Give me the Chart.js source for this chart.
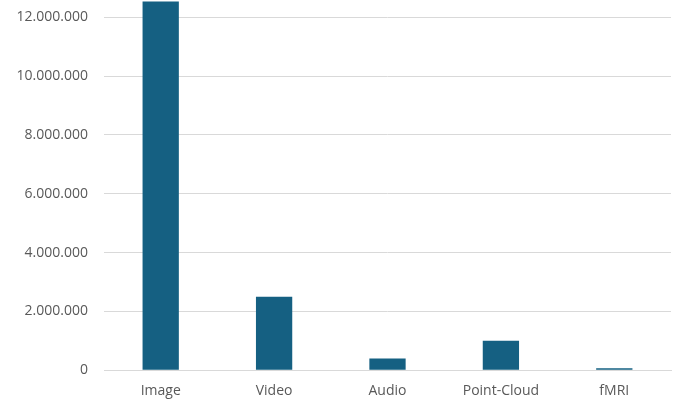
<!DOCTYPE html>
<html><head><meta charset="utf-8">
<script src="https://cdn.jsdelivr.net/npm/chart.js@4"></script>
<style>html,body{margin:0;padding:0;background:#fff;overflow:hidden}#o{width:676px;height:411px;overflow:hidden;position:relative}#w{position:absolute;top:-23px;left:0;width:676px;height:434px}</style>
</head><body><div id="o"><div id="w"><canvas id="c"></canvas></div></div>
<script>
const categories = ["Image","Video","Audio","Point-Cloud","fMRI"];
const values = [14000000, 2500000, 400000, 1000000, 70000];
const tickValues = [0,2000000,4000000,6000000,8000000,10000000,12000000];
new Chart(document.getElementById('c'), {
  type: 'bar',
  data: { labels: categories, datasets: [{ data: values, backgroundColor: '#156082', barPercentage: 0.32, categoryPercentage: 1 }] },
  options: {
    responsive: true, maintainAspectRatio: false, animation: false,
    layout: { padding: { top: 0, right: 5, left: 0, bottom: 8 } },
    plugins: { legend: { display: false }, tooltip: { enabled: false } },
    scales: {
      x: { grid: { display: false }, border: { color: '#d9d9d9' },
           ticks: { color: '#595959', font: { family: 'Open Sans', size: 14 }, padding: 4 } },
      y: { min: 0, max: 12540000,
           afterBuildTicks: s => { s.ticks = tickValues.map(v => ({ value: v })); },
           afterFit: s => { s.width = 104; },
           grid: { color: '#d9d9d9', drawTicks: false }, border: { display: false },
           ticks: { color: '#595959', font: { family: 'Open Sans', size: 14 }, padding: 16,
                    callback: v => v.toLocaleString('de-DE') } }
    }
  }
});
</script></body></html>
